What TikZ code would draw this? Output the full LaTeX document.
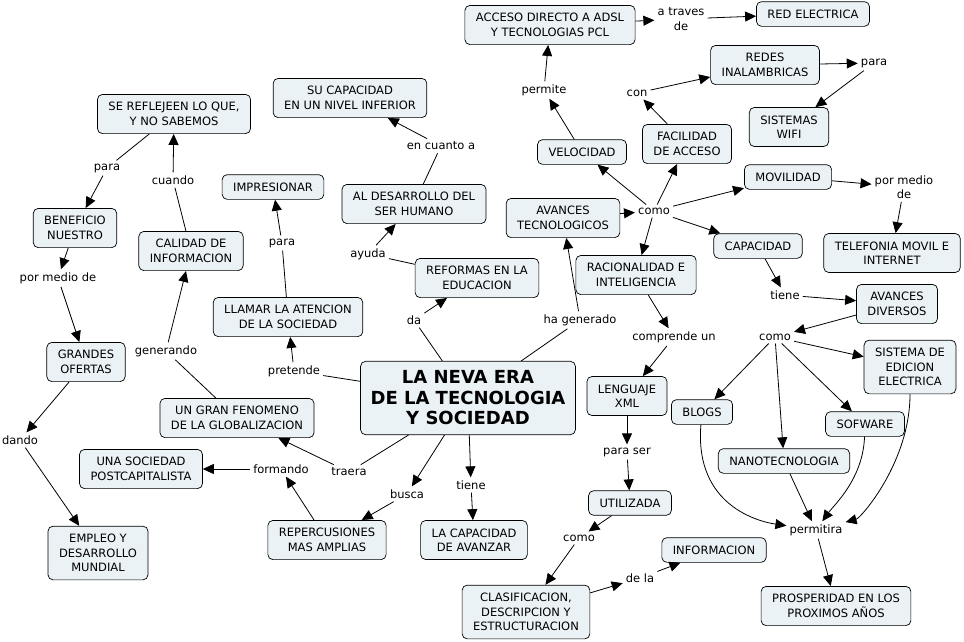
\documentclass[tikz,border=0pt]{standalone}
\usepackage{fontspec}
\setmainfont{DejaVu Sans}
\usepackage{tikz}
\usetikzlibrary{arrows.meta}
\usepackage{xcolor}
\definecolor{boxfill}{RGB}{235,242,245}
\tikzset{
  concept/.style = {rectangle, rounded corners=5pt, draw, line width=0.7pt,
                    fill=boxfill, align=center, inner xsep=11pt, inner ysep=8pt,
                    font=\fontsize{11.5}{14.5}\selectfont},
  mainbox/.style = {concept, inner xsep=10pt, inner ysep=9.5pt,
                    font=\fontsize{18}{20.5}\selectfont\bfseries},
  link/.style    = {align=center, inner sep=3pt,
                    font=\fontsize{11.5}{14.5}\selectfont},
  line/.style    = {line width=0.8pt},
  flow/.style    = {line, -{Triangle[length=11pt,width=10pt]}},
}

\begin{document}
\begin{tikzpicture}[x=1pt,y=-1pt]
    \useasboundingbox (0,0) rectangle (964,641);
    % concepts
    \node[concept] (acceso) at (550,25) {ACCESO DIRECTO A ADSL\\Y TECNOLOGIAS PCL};
    \node[concept] (red) at (813,14) {RED ELECTRICA};
    \node[concept] (redes) at (765,65) {REDES\\INALAMBRICAS};
    \node[concept] (wifi) at (789,127) {SISTEMAS\\WIFI};
    \node[concept] (velocidad) at (582,152) {VELOCIDAD};
    \node[concept] (facilidad) at (687,144) {FACILIDAD\\DE ACCESO};
    \node[concept] (movilidad) at (788,177) {MOVILIDAD};
    \node[concept] (telefonia) at (892,253) {TELEFONIA MOVIL E\\INTERNET};
    \node[concept] (avtec) at (563,218) {AVANCES\\TECNOLOGICOS};
    \node[concept] (capacidad) at (758,246) {CAPACIDAD};
    \node[concept] (racional) at (636,275) {RACIONALIDAD E\\INTELIGENCIA};
    \node[concept] (avdiv) at (897,304) {AVANCES\\DIVERSOS};
    \node[concept] (edicion) at (910,367) {SISTEMA DE\\EDICION\\ELECTRICA};
    \node[concept] (blogs) at (702,412) {BLOGS};
    \node[concept] (sofware) at (865,424) {SOFWARE};
    \node[concept] (nano) at (784,461) {NANOTECNOLOGIA};
    \node[concept] (prosp) at (836,606) {PROSPERIDAD EN LOS\\PROXIMOS AÑOS};
    \node[concept] (informacion) at (714,550) {INFORMACION};
    \node[concept] (clasif) at (526,612) {CLASIFICACION,\\DESCRIPCION Y\\ESTRUCTURACION};
    \node[concept] (utilizada) at (630,503) {UTILIZADA};
    \node[concept] (xml) at (627,396) {LENGUAJE\\XML};
    \node[mainbox] (era) at (468,398) {LA NEVA ERA\\DE LA TECNOLOGIA\\Y SOCIEDAD};
    \node[concept] (reformas) at (477,278) {REFORMAS EN LA\\EDUCACION};
    \node[concept] (desarrollo) at (414,204) {AL DESARROLLO DEL\\SER HUMANO};
    \node[concept] (sucap) at (350,98) {SU CAPACIDAD\\EN UN NIVEL INFERIOR};
    \node[concept] (impresionar) at (273,187) {IMPRESIONAR};
    \node[concept] (llamar) at (288,317) {LLAMAR LA ATENCION\\DE LA SOCIEDAD};
    \node[concept] (calidad) at (191,251) {CALIDAD DE\\INFORMACION};
    \node[concept] (refleje) at (174,114) {SE REFLEJEEN LO QUE,\\Y NO SABEMOS};
    \node[concept] (beneficio) at (75,228) {BENEFICIO\\NUESTRO};
    \node[concept] (ofertas) at (86,362) {GRANDES\\OFERTAS};
    \node[concept] (fenomeno) at (237,418) {UN GRAN FENOMENO\\DE LA GLOBALIZACION};
    \node[concept] (empleo) at (98,553) {EMPLEO Y\\DESARROLLO\\MUNDIAL};
    \node[concept] (postcap) at (141,469) {UNA SOCIEDAD\\POSTCAPITALISTA};
    \node[concept] (repercus) at (327,540) {REPERCUSIONES\\MAS AMPLIAS};
    \node[concept] (avanzar) at (474,540) {LA CAPACIDAD\\DE AVANZAR};
    % linking phrases
    \node[link] (atraves) at (681,19) {a traves\\de};
    \node[link] (para1) at (874,63) {para};
    \node[link] (con) at (637,93) {con};
    \node[link] (permite) at (544,90) {permite};
    \node[link] (pormedio1) at (904,187) {por medio\\de};
    \node[link] (como1) at (654,211) {como};
    \node[link] (tiene1) at (785,295) {tiene};
    \node[link] (comprende) at (674,337) {comprende un};
    \node[link] (como2) at (775,337) {como};
    \node[link] (permitira) at (816,530) {permitira};
    \node[link] (dela) at (640,578) {de la};
    \node[link] (como3) at (579,538) {como};
    \node[link] (paraser) at (627,452) {para ser};
    \node[link] (generado) at (580,320) {ha generado};
    \node[link] (da) at (414,320) {da};
    \node[link] (ayuda) at (368,254) {ayuda};
    \node[link] (cuanto) at (441,146) {en cuanto a};
    \node[link] (para2) at (282,243) {para};
    \node[link] (pretende) at (294,371) {pretende};
    \node[link] (cuando) at (173,180) {cuando};
    \node[link] (para3) at (107,168) {para};
    \node[link] (pormedio2) at (58,278) {por medio de};
    \node[link] (generando) at (166,351) {generando};
    \node[link] (dando) at (20,440) {dando};
    \node[link] (formando) at (281,469) {formando};
    \node[link] (traera) at (349,472) {traera};
    \node[link] (busca) at (407,494) {busca};
    \node[link] (tiene2) at (471,485) {tiene};
    % edges, right part
    \draw[flow] (acceso) -- (atraves);
    \draw[flow] (atraves) -- (red);
    \draw[flow] (redes) -- (para1);
    \draw[flow] (para1) -- (wifi);
    \draw[flow] (facilidad) -- (con);
    \draw[flow] (con) -- (redes);
    \draw[flow] (velocidad) -- (permite);
    \draw[flow] (permite) -- (acceso);
    \draw[flow] (avtec) -- (como1);
    \foreach \t in {velocidad,facilidad,movilidad,capacidad,racional}
      \draw[flow] (como1) -- (\t);
    \draw[flow] (movilidad) -- (pormedio1);
    \draw[flow] (pormedio1) -- (telefonia);
    \draw[flow] (capacidad) -- (tiene1);
    \draw[flow] (tiene1) -- (avdiv);
    \draw[flow] (avdiv) -- (como2);
    \foreach \t in {edicion,blogs,nano,sofware}
      \draw[flow] (como2) -- (\t);
    \draw[flow] (blogs) .. controls +(-8,95) and +(-55,-8) .. (permitira);
    \draw[flow] (nano) -- (permitira);
    \draw[flow] (sofware) .. controls +(-2,55) and +(18,-25) .. (permitira);
    \draw[flow] (edicion) .. controls +(0,95) and +(45,-12) .. (permitira);
    \draw[flow] (permitira) -- (prosp);
    \draw[flow] (racional) -- (comprende);
    \draw[flow] (comprende) -- (xml);
    \draw[flow] (xml) -- (paraser);
    \draw[flow] (paraser) -- (utilizada);
    \draw[flow] (utilizada) -- (como3);
    \draw[flow] (como3) -- (clasif);
    \draw[flow] (clasif) -- (dela);
    \draw[flow] (dela) -- (informacion);
    % edges, centre and left part
    \draw[line] (era) -- (generado);
    \draw[flow] (generado) -- (avtec);
    \draw[line] (era) -- (da);
    \draw[flow] (da) -- (reformas);
    \draw[line] (reformas) -- (ayuda);
    \draw[flow] (ayuda) -- (desarrollo);
    \draw[line] (desarrollo) -- (cuanto);
    \draw[flow] (cuanto) -- (sucap);
    \draw[line] (era) -- (pretende);
    \draw[flow] (pretende) -- (llamar);
    \draw[line] (llamar) -- (para2);
    \draw[flow] (para2) -- (impresionar);
    \draw[line] (fenomeno) -- (generando);
    \draw[flow] (generando) -- (calidad);
    \draw[line] (calidad) -- (cuando);
    \draw[flow] (cuando) -- (refleje);
    \draw[line] (refleje) -- (para3);
    \draw[flow] (para3) -- (beneficio);
    \draw[flow] (beneficio) -- (pormedio2);
    \draw[flow] (pormedio2) -- (ofertas);
    \draw[flow] (ofertas) -- (dando);
    \draw[flow] (dando) -- (empleo);
    \draw[line] (era) -- (traera);
    \draw[flow] (traera) -- (fenomeno);
    \draw[flow] (repercus) -- (formando);
    \draw[flow] (formando) -- (postcap);
    \draw[flow] (era) -- (busca);
    \draw[flow] (busca) -- (repercus);
    \draw[flow] (era) -- (tiene2);
    \draw[flow] (tiene2) -- (avanzar);
  \end{tikzpicture}
\end{document}
